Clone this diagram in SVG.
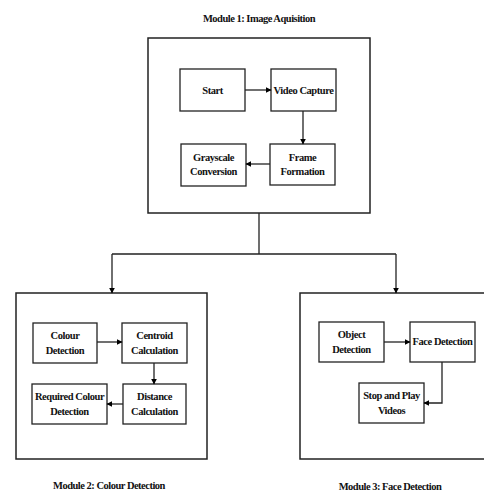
<svg xmlns="http://www.w3.org/2000/svg" width="484" height="491" viewBox="0 0 484 491">
<defs>
<marker id="ah" viewBox="0 0 10 10" refX="9" refY="5" markerWidth="6" markerHeight="6" orient="auto" markerUnits="userSpaceOnUse">
<path d="M0,0 L10,5 L0,10 z" fill="#000"/>
</marker>
<style>
.mod{fill:#fff;stroke:#222;stroke-width:1.5}
.box{fill:#fff;stroke:#222;stroke-width:1.3}
.t{font-family:"Liberation Serif","Times New Roman",serif;font-weight:bold;font-size:10.5px;letter-spacing:-0.45px;fill:#111;text-anchor:middle}
.ttl{font-family:"Liberation Serif","Times New Roman",serif;font-weight:bold;font-size:10.5px;letter-spacing:-0.5px;fill:#111;text-anchor:middle}
.c{fill:none;stroke:#222;stroke-width:1.3;marker-end:url(#ah)}
.l{fill:none;stroke:#222;stroke-width:1.3}
</style>
</defs>
<rect width="484" height="491" fill="#fff"/>
<g id="module1">
<rect class="mod" x="148" y="38" width="222" height="175"/>
<text class="ttl" x="259" y="22">Module 1: Image Aquisition</text>
</g>
<g id="module2">
<rect class="mod" x="16" y="293" width="191" height="166"/>
<text class="ttl" x="109" y="489">Module 2: Colour Detection</text>
</g>
<g id="module3">
<rect class="mod" x="300" y="293" width="190" height="166"/>
<text class="ttl" x="390" y="490">Module 3: Face Detection</text>
</g>
<g id="start"><rect class="box" x="180" y="69" width="65" height="42"/><text class="t" x="212.5" y="94">Start</text></g>
<g id="video-capture"><rect class="box" x="271" y="69" width="65" height="42"/><text class="t" x="303.5" y="94">Video Capture</text></g>
<g id="grayscale"><rect class="box" x="181" y="144" width="65" height="42"/><text class="t" x="213.5" y="161">Grayscale</text><text class="t" x="213.5" y="175">Conversion</text></g>
<g id="frame-formation"><rect class="box" x="270" y="144" width="65" height="41"/><text class="t" x="302.5" y="161">Frame</text><text class="t" x="302.5" y="175">Formation</text></g>
<g id="colour-detection"><rect class="box" x="33" y="323" width="64" height="40"/><text class="t" x="65" y="339">Colour</text><text class="t" x="65" y="354">Detection</text></g>
<g id="centroid"><rect class="box" x="122" y="323" width="65" height="40"/><text class="t" x="154.5" y="339">Centroid</text><text class="t" x="154.5" y="354">Calculation</text></g>
<g id="required-colour"><rect class="box" x="32" y="384" width="75" height="40"/><text class="t" x="69.5" y="400">Required Colour</text><text class="t" x="69.5" y="415">Detection</text></g>
<g id="distance"><rect class="box" x="123" y="384" width="63" height="40"/><text class="t" x="154.5" y="400">Distance</text><text class="t" x="154.5" y="415">Calculation</text></g>
<g id="object-detection"><rect class="box" x="319" y="322" width="65" height="40"/><text class="t" x="351.5" y="338">Object</text><text class="t" x="351.5" y="353">Detection</text></g>
<g id="face-detection"><rect class="box" x="410" y="322" width="65" height="40"/><text class="t" x="442.5" y="345">Face Detection</text></g>
<g id="stop-play"><rect class="box" x="359" y="383" width="65" height="40"/><text class="t" x="391.5" y="399">Stop and Play</text><text class="t" x="391.5" y="414">Videos</text></g>
<g id="connectors">
<path class="c" d="M245,90 H271"/>
<path class="c" d="M303,111 V144"/>
<path class="c" d="M270,164 H246"/>
<path class="l" d="M259,213 V254 M112,254 H396"/>
<path class="c" d="M112,254 V293"/>
<path class="c" d="M396,254 V293"/>
<path class="c" d="M97,342 H122"/>
<path class="c" d="M154,363 V384"/>
<path class="c" d="M123,404 H107"/>
<path class="c" d="M384,342 H410"/>
<path class="c" d="M442,362 V403 H424"/>
</g>
</svg>
